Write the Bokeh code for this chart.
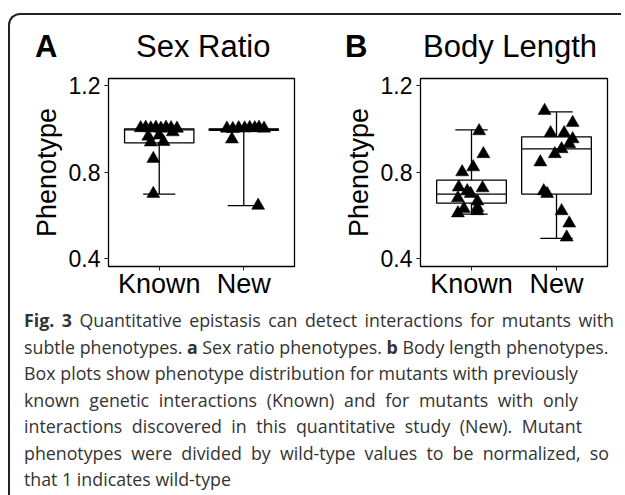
from bokeh.plotting import figure
from bokeh.models import Div, Spacer, FixedTicker, Range1d
from bokeh.layouts import column, row
from bokeh.embed import file_html
from bokeh.resources import INLINE

# ---------------- data ----------------
categories = ["Known", "New"]
y_ticks = [0.4, 0.8, 1.2]
y_tick_labels = ["0.4", "0.8", "1.2"]

panel_letters = ["A", "B"]
panel_titles = ["Sex Ratio", "Body Length"]
y_label = "Phenotype"

# Panel A - Sex ratio (box statistics per category)
sex_q1 = [0.935, 0.993]
sex_median = [0.995, 0.998]
sex_q3 = [1.0, 1.0]
sex_lower = [0.698, 0.645]
sex_upper = [1.0, 1.005]
# individual mutants (horizontal jitter, value)
sex_known_jitter = [-0.22, -0.16, -0.10, -0.04, 0.02, 0.08, 0.14, 0.21, -0.13, 0.0, 0.16, -0.10, 0.05, -0.07, -0.07]
sex_known_value = [1.004, 1.006, 1.003, 1.006, 1.002, 1.006, 1.004, 1.002, 0.965, 0.97, 0.985, 0.938, 0.94, 0.862, 0.70]
sex_new_jitter = [-0.20, -0.13, -0.06, 0.01, 0.07, 0.13, 0.18, 0.24, -0.14, 0.17]
sex_new_value = [1.002, 1.0, 1.004, 1.003, 1.005, 1.004, 1.006, 1.002, 0.952, 0.645]

# Panel B - Body length
body_q1 = [0.656, 0.698]
body_median = [0.698, 0.907]
body_q3 = [0.763, 0.963]
body_lower = [0.605, 0.493]
body_upper = [0.995, 1.079]
body_known_jitter = [0.09, 0.14, 0.02, -0.11, -0.15, 0.13, -0.05, -0.01, -0.16, 0.07, 0.07, -0.09, -0.16, 0.07]
body_known_value = [0.99, 0.884, 0.823, 0.80, 0.73, 0.726, 0.712, 0.70, 0.68, 0.665, 0.635, 0.63, 0.61, 0.62]
body_new_jitter = [-0.14, 0.19, -0.07, 0.09, 0.19, 0.15, 0.06, -0.02, -0.19, -0.15, -0.11, 0.06, 0.15, 0.12]
body_new_value = [1.084, 1.028, 0.981, 0.981, 0.953, 0.93, 0.907, 0.884, 0.846, 0.712, 0.70, 0.62, 0.563, 0.498]

caption_lines = [
    "<b>Fig. 3</b> Quantitative epistasis can detect interactions for mutants with",
    "subtle phenotypes. <b>a</b> Sex ratio phenotypes. <b>b</b> Body length phenotypes.",
    "Box plots show phenotype distribution for mutants with previously",
    "known genetic interactions (Known) and for mutants with only",
    "interactions discovered in this quantitative study (New). Mutant",
    "phenotypes were divided by wild-type values to be normalized, so",
    "that 1 indicates wild-type",
]

# ---------------- styling ----------------
FONT = "Liberation Sans"
BOX_W = 0.82
CAP_W = 0.38
# justified width of each caption line (px), last line is left aligned
caption_line_widths = [590, 583, 554, 554, 558, 585, None]


def make_panel(q1, med, q3, lo, hi, groups, width, left, right):
    p = figure(width=width, height=237, x_range=Range1d(0.4, 2.6), y_range=Range1d(0.363, 1.233),
               output_backend="svg", toolbar_location=None,
               min_border_left=left, min_border_right=right, min_border_top=13, min_border_bottom=36)
    p.grid.visible = False
    p.outline_line_color = "black"
    p.outline_line_width = 1.3
    p.background_fill_color = "white"
    p.border_fill_color = "white"

    xs = [i + 1 for i in range(len(categories))]
    # whiskers
    p.segment(x0=xs, y0=lo, x1=xs, y1=q1, line_color="black", line_width=1.3)
    p.segment(x0=xs, y0=q3, x1=xs, y1=hi, line_color="black", line_width=1.3)
    # whisker caps
    p.segment(x0=[x - CAP_W / 2 for x in xs], y0=lo, x1=[x + CAP_W / 2 for x in xs], y1=lo,
              line_color="black", line_width=1.3)
    p.segment(x0=[x - CAP_W / 2 for x in xs], y0=hi, x1=[x + CAP_W / 2 for x in xs], y1=hi,
              line_color="black", line_width=1.3)
    # boxes
    p.quad(left=[x - BOX_W / 2 for x in xs], right=[x + BOX_W / 2 for x in xs], bottom=q1, top=q3,
           fill_color="white", line_color="black", line_width=1.3)
    p.segment(x0=[x - BOX_W / 2 for x in xs], y0=med, x1=[x + BOX_W / 2 for x in xs], y1=med,
              line_color="black", line_width=1.3)
    # points
    for x, (jit, vals) in zip(xs, groups):
        p.scatter(x=[x + j for j in jit], y=vals, marker="triangle", size=13,
                  fill_color="black", line_color="black", line_width=0.5)

    p.xaxis.ticker = FixedTicker(ticks=xs)
    p.xaxis.major_label_overrides = {x: c for x, c in zip(xs, categories)}
    p.yaxis.ticker = FixedTicker(ticks=y_ticks)
    p.yaxis.major_label_overrides = {t: l for t, l in zip(y_ticks, y_tick_labels)}
    for ax in (p.xaxis[0], p.yaxis[0]):
        ax.axis_line_color = None
        ax.major_tick_out = 4
        ax.major_tick_in = 0
        ax.minor_tick_line_color = None
        ax.major_tick_line_color = "#222222"
        ax.major_label_text_font = FONT
        ax.major_label_text_color = "black"
    p.xaxis.major_label_text_font_size = "27px"
    p.xaxis.major_label_standoff = -2
    p.yaxis.major_label_text_font_size = "23px"
    p.yaxis.major_label_standoff = 4
    p.yaxis.axis_label = y_label
    p.yaxis.axis_label_text_font = FONT
    p.yaxis.axis_label_text_font_size = "27px"
    p.yaxis.axis_label_text_font_style = "normal"
    p.yaxis.axis_label_text_color = "black"
    p.yaxis.axis_label_standoff = 4
    return p


pA = make_panel(sex_q1, sex_median, sex_q3, sex_lower, sex_upper,
                [(sex_known_jitter, sex_known_value), (sex_new_jitter, sex_new_value)],
                width=300, left=98, right=16)
pB = make_panel(body_q1, body_median, body_q3, body_lower, body_upper,
                [(body_known_jitter, body_known_value), (body_new_jitter, body_new_value)],
                width=311, left=110, right=14)

span = "position:absolute;top:16px;font-family:'Liberation Sans';font-size:31px;line-height:31px;color:black;white-space:nowrap;"
header_html = (
    '<div style="position:relative;width:611px;height:50px;">'
    f'<span style="{span}left:25px;font-weight:bold;">{panel_letters[0]}</span>'
    f'<span style="{span}left:126px;">{panel_titles[0]}</span>'
    f'<span style="{span}left:335px;font-weight:bold;">{panel_letters[1]}</span>'
    f'<span style="{span}left:413px;">{panel_titles[1]}</span>'
    '</div>'
)
header = Div(text=header_html, width=611, height=50, margin=0)

line_divs = []
for txt, w in zip(caption_lines, caption_line_widths):
    if w is None:
        line_divs.append(f'<div style="white-space:nowrap;">{txt}</div>')
    else:
        line_divs.append(f'<div style="width:{w}px;white-space:nowrap;text-align:justify;'
                         f'text-align-last:justify;">{txt}</div>')
caption_html = (
    '<div style="height:193px;overflow:hidden;padding-left:14px;padding-top:5px;box-sizing:border-box;'
    'font-family:\'Open Sans\';font-size:17.8px;line-height:26.5px;color:#333333;">'
    + "".join(line_divs) + '</div>'
)
caption = Div(text=caption_html, width=611, height=193, margin=0)

inner = column(header, row(pA, pB), caption,
               styles={"border-top": "2px solid #222222", "border-left": "2px solid #222222",
                       "border-top-left-radius": "12px", "background-color": "white"})
layout = column(Spacer(height=13), row(Spacer(width=8), inner))

open("out.html", "w").write(file_html(layout, INLINE))
